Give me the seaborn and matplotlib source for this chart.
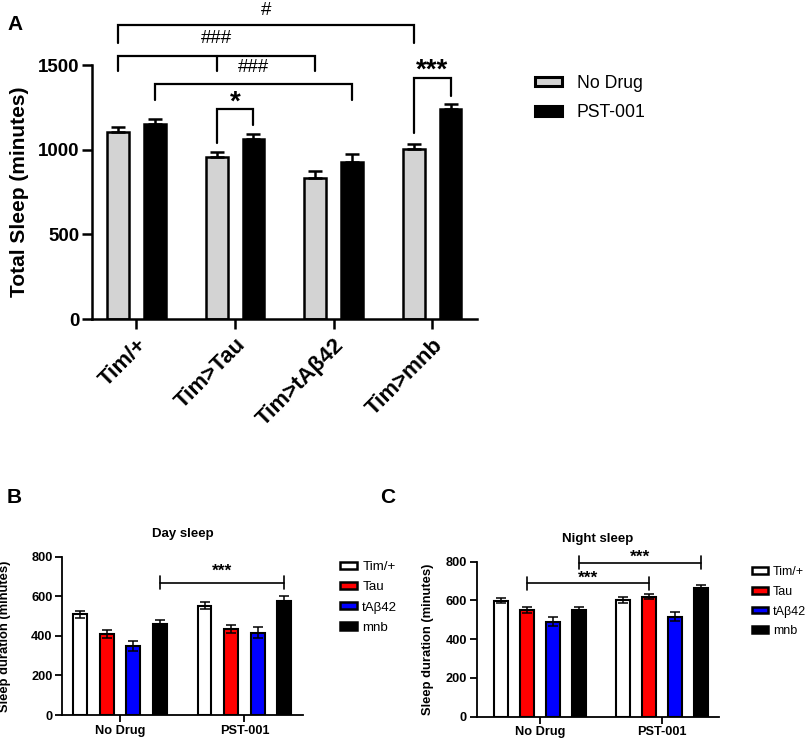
import numpy as np
import pandas as pd
import matplotlib
matplotlib.use("Agg")
import matplotlib.pyplot as plt
import seaborn as sns
from matplotlib.patches import Patch

# ---------------- data ----------------
genotypes_A = ["Tim/+", "Tim>Tau", "Tim>tAβ42", "Tim>mnb"]
treatments = ["No Drug", "PST-001"]
total_nodrug = [1105, 957, 832, 1006]
total_nodrug_sem = [28, 30, 44, 29]
total_pst = [1152, 1063, 929, 1240]
total_pst_sem = [28, 27, 45, 29]

genotypes_BC = ["Tim/+", "Tau", "tAβ42", "mnb"]
day_nodrug = [510, 409, 347, 460]
day_nodrug_sem = [18, 20, 25, 21]
day_pst = [552, 436, 416, 577]
day_pst_sem = [18, 20, 28, 23]
night_nodrug = [599, 551, 490, 551]
night_nodrug_sem = [13, 14, 24, 13]
night_pst = [602, 618, 516, 666]
night_pst_sem = [15, 13, 22, 13]

colors_A = ["#d3d3d3", "#000000"]
colors_BC = ["#ffffff", "#ff0000", "#0000ff", "#000000"]

sns.set_style("ticks")
plt.rcParams["font.family"] = ["Liberation Sans", "DejaVu Sans"]
plt.rcParams.update({
    "text.color": "black", "axes.labelcolor": "black", "axes.edgecolor": "black",
    "xtick.color": "black", "ytick.color": "black",
})

W, H = 809, 738
fig = plt.figure(figsize=(W / 100, H / 100), dpi=100)


def fx(px):
    return px / W


def fy(py):
    return 1 - py / H


# ---------------- Panel A ----------------
A_left, A_right, A_top, A_bot = 92, 476.7, 65, 319
axA = fig.add_axes([fx(A_left), fy(A_bot), fx(A_right) - fx(A_left), fy(A_top) - fy(A_bot)])
dfA = pd.DataFrame({
    "genotype": genotypes_A * 2,
    "treatment": [treatments[0]] * 4 + [treatments[1]] * 4,
    "value": total_nodrug + total_pst,
})
sns.barplot(data=dfA, x="genotype", y="value", hue="treatment",
            order=genotypes_A, hue_order=treatments, palette=colors_A,
            saturation=1, edgecolor="black", linewidth=1.8, width=0.744, gap=0.41,
            errorbar=None, legend=False, ax=axA, zorder=2)

semsA = [total_nodrug_sem, total_pst_sem]
bar_contsA = list(axA.containers)
centersA = []
for cont, sem in zip(bar_contsA, semsA):
    xs = np.array([b.get_x() + b.get_width() / 2 for b in cont])
    ys = np.array([b.get_height() for b in cont])
    centersA.append(xs)
    axA.errorbar(xs, ys, yerr=[np.zeros_like(ys), np.array(sem)], fmt="none",
                 ecolor="black", elinewidth=1.8, capsize=5, capthick=1.8, zorder=3)

axA.set_ylim(0, 1500)
axA.set_xlim(-0.45, 3.45)
axA.set_yticks([0, 500, 1000, 1500])
axA.set_xlabel("")
axA.set_ylabel("Total Sleep (minutes)", fontsize=15, fontweight="bold")
axA.yaxis.set_label_coords(fx(29), fy((A_top + A_bot) / 2), transform=fig.transFigure)
for s in ["top", "right"]:
    axA.spines[s].set_visible(False)
for s in ["left", "bottom"]:
    axA.spines[s].set_linewidth(1.8)
axA.tick_params(axis="both", width=1.8, length=7)
axA.tick_params(axis="y", labelsize=13.5, pad=2)
axA.tick_params(axis="x", labelsize=16, pad=4)
for lab in axA.get_yticklabels():
    lab.set_fontweight("bold")
for lab in axA.get_xticklabels():
    lab.set_fontweight("bold")
    lab.set_rotation(45)
    lab.set_ha("right")
    lab.set_va("top")
    lab.set_rotation_mode("anchor")

gA, bA = centersA
lwb = 1.6


def bracket(ax, x1, x2, ytop, y1, y2, lw, extra=None):
    ax.plot([x1, x1, x2, x2], [y1, ytop, ytop, y2], color="black", lw=lw,
            clip_on=False, solid_joinstyle="miter", zorder=4)
    if extra is not None:
        ax.plot([extra[0], extra[0]], [ytop, extra[1]], color="black", lw=lw,
                clip_on=False, zorder=4)


# '#' bracket Tim/+ vs Tim>mnb (No Drug)
bracket(axA, gA[0], gA[3], 1736, 1630, 1630, lwb)
axA.text((gA[0] + gA[3]) / 2, 1795, "#", ha="center", va="baseline", fontsize=13.5, clip_on=False)
# '###' bracket Tim/+ vs Tim>Tau & Tim>tAb42 (No Drug)
bracket(axA, gA[0], gA[2], 1553, 1465, 1465, lwb, extra=(gA[1], 1465))
axA.text(gA[1], 1628, "###", ha="center", va="baseline", fontsize=13.5, clip_on=False)
# '###' bracket PST Tim/+ vs Tim>tAb42
bracket(axA, bA[0], bA[2], 1388, 1293, 1293, lwb)
axA.text(bA[1], 1461, "###", ha="center", va="baseline", fontsize=13.5, clip_on=False)
# '*' Tau
bracket(axA, gA[1], bA[1], 1240, 1039, 1146, lwb)
axA.text((gA[1] + bA[1]) / 2, 1236, "*", ha="center", va="baseline", fontsize=20,
         fontweight="bold", clip_on=False)
# '***' mnb
bracket(axA, gA[3], bA[3], 1423, 1098, 1317, lwb)
axA.text((gA[3] + bA[3]) / 2, 1425, "***", ha="center", va="baseline", fontsize=20,
         fontweight="bold", clip_on=False)

handlesA = [Patch(facecolor=c, edgecolor="black", linewidth=2.2) for c in colors_A]
fig.legend(handlesA, treatments, loc="upper left",
           bbox_to_anchor=(fx(535), fy(75)), bbox_transform=fig.transFigure,
           frameon=False, fontsize=12.7, borderpad=0, borderaxespad=0,
           handlelength=1.53, handleheight=0.45, handletextpad=0.85,
           labelspacing=0.7)

fig.text(fx(7), fy(30), "A", fontsize=15, fontweight="bold", va="baseline")


# ---------------- Panels B & C ----------------
def small_panel(box, nodrug, nodrug_sem, pst, pst_sem, title, xlim, ylab_px,
                legend_xy, legend_fs):
    left, right, top, bot = box
    ax = fig.add_axes([fx(left), fy(bot), fx(right) - fx(left), fy(top) - fy(bot)])
    df = pd.DataFrame({
        "treatment": [treatments[0]] * 4 + [treatments[1]] * 4,
        "genotype": genotypes_BC * 2,
        "value": nodrug + pst,
    })
    sns.barplot(data=df, x="treatment", y="value", hue="genotype",
                order=treatments, hue_order=genotypes_BC, palette=colors_BC,
                saturation=1, edgecolor="black", linewidth=1.5, width=0.855, gap=0.48,
                errorbar=None, legend=False, ax=ax, zorder=2)
    bar_conts = list(ax.containers)
    centers = []
    for i, cont in enumerate(bar_conts):
        xs = np.array([b.get_x() + b.get_width() / 2 for b in cont])
        ys = np.array([b.get_height() for b in cont])
        errs = np.array([nodrug_sem[i], pst_sem[i]])
        centers.append(xs)
        ax.errorbar(xs, ys, yerr=errs, fmt="none", ecolor="black",
                    elinewidth=1.1, capsize=3.6, capthick=1.1, zorder=3)
    ax.set_ylim(0, 800)
    ax.set_xlim(*xlim)
    ax.set_yticks([0, 200, 400, 600, 800])
    ax.set_xlabel("")
    ax.set_ylabel("Sleep duration (minutes)", fontsize=9.4, fontweight="bold")
    ax.yaxis.set_label_coords(fx(ylab_px), fy((top + bot) / 2), transform=fig.transFigure)
    ax.set_title(title, fontsize=9.5, fontweight="bold", pad=14)
    for s in ["top", "right"]:
        ax.spines[s].set_visible(False)
    for s in ["left", "bottom"]:
        ax.spines[s].set_linewidth(1.3)
    ax.tick_params(axis="both", width=1.3, length=5, labelsize=9.2, pad=2)
    for lab in ax.get_yticklabels() + ax.get_xticklabels():
        lab.set_fontweight("bold")
    handles = [Patch(facecolor=c, edgecolor="black", linewidth=1.8) for c in colors_BC]
    fig.legend(handles, genotypes_BC, loc="upper left",
               bbox_to_anchor=legend_xy, bbox_transform=fig.transFigure,
               frameon=False, fontsize=legend_fs, borderpad=0, borderaxespad=0,
               handlelength=1.27, handleheight=0.45, handletextpad=0.4,
               labelspacing=0.62)
    return ax, centers


def hbracket(ax, x1, x2, y, half, lw=1.2):
    ax.plot([x1, x2], [y, y], color="black", lw=lw, clip_on=False, zorder=4)
    for x in (x1, x2):
        ax.plot([x, x], [y - half, y + half], color="black", lw=lw,
                clip_on=False, zorder=4)


axB, cB = small_panel((62.3, 303, 556.7, 715),
                      day_nodrug, day_nodrug_sem, day_pst, day_pst_sem,
                      "Day sleep", (-0.463, 1.47), 11, (fx(340), fy(561)), 9.6)
hbracket(axB, cB[3][0], cB[3][1], 668, 33)
axB.text((cB[3][0] + cB[3][1]) / 2, 705, "***", ha="center", va="baseline",
         fontsize=12.5, fontweight="bold", clip_on=False)

axC, cC = small_panel((476.7, 719, 561.7, 716.7),
                      night_nodrug, night_nodrug_sem, night_pst, night_pst_sem,
                      "Night sleep", (-0.52, 1.47), 434, (fx(752), fy(566)), 9.0)
hbracket(axC, cC[1][0], cC[1][1], 688, 34)
axC.text((cC[1][0] + cC[1][1]) / 2, 690, "***", ha="center", va="baseline",
         fontsize=12.5, fontweight="bold", clip_on=False)
hbracket(axC, cC[3][0], cC[3][1], 795, 35)
axC.text((cC[3][0] + cC[3][1]) / 2, 802, "***", ha="center", va="baseline",
         fontsize=12.5, fontweight="bold", clip_on=False)

fig.text(fx(7), fy(503), "B", fontsize=15, fontweight="bold", va="baseline")
fig.text(fx(380), fy(503), "C", fontsize=15, fontweight="bold", va="baseline")

fig.savefig("out.png", dpi=100)
